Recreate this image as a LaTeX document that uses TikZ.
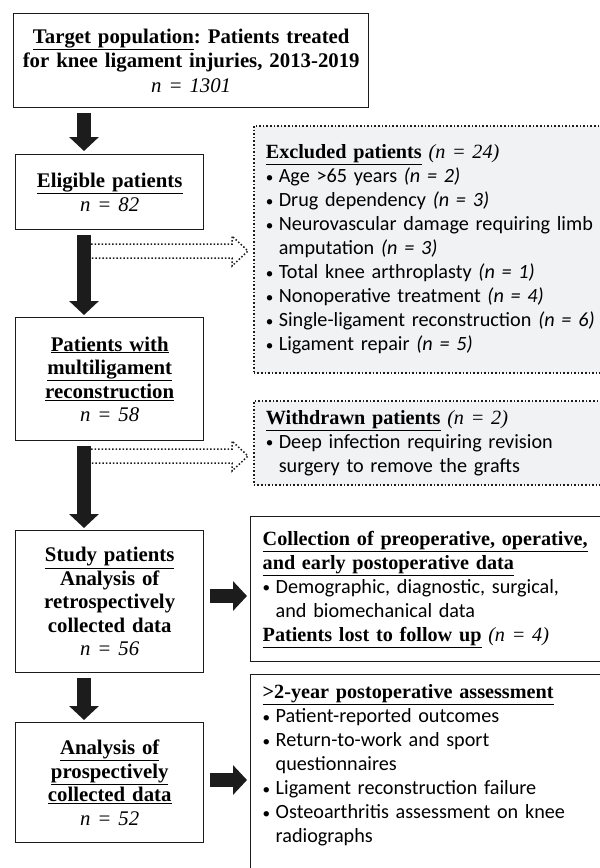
\documentclass[tikz,border=0pt]{standalone}
\usepackage{fontspec}
\setmainfont{Liberation Serif}
\newfontfamily\calib{Carlito}
\usetikzlibrary{arrows.meta,positioning,calc}
\frenchspacing

\definecolor{boxgray}{RGB}{241,242,244}
\definecolor{ink}{RGB}{28,28,28}

\newcommand\hd[1]{{\rmfamily\bfseries\underline{#1}}}
\newcommand\nn[1]{{\rmfamily\itshape #1}}
\newcommand\bul{\makebox[13pt][l]{\raisebox{0.5pt}{\scalebox{0.75}{•}}}}
\newcommand\ind{\hspace*{13pt}}

\begin{document}
\begin{tikzpicture}[
  x=1pt, y=-1pt,
  lbox/.style={draw=ink, line width=1.4pt, align=center, anchor=north west, inner xsep=4pt, inner ysep=0pt, text width=180pt, font=\fontsize{20.8}{23.5}\selectfont\bfseries},
  rbox/.style={draw=ink, dotted, line width=1.6pt, fill=boxgray, align=left, anchor=north west, inner xsep=12pt, inner ysep=0pt, text width=360pt, font=\calib\fontsize{20.2}{24}\selectfont},
  sbox/.style={rbox, solid, fill=none, line width=1.4pt},
  blk/.style={line width=14pt, ink, -{Triangle[width=29pt,length=14pt]}},
  hollow/.style={ink, dotted, line width=1.5pt, line join=miter}
]
\useasboundingbox (0,0) rectangle (600,868);
\fill[white] (0,0) rectangle (600,868);
\clip (0,0) rectangle (600,868);

\node[lbox, text width=347pt, minimum height=94pt, font=\fontsize{20.8}{24.5}\selectfont\bfseries] (target) at (13,13) {\underline{Target population}: Patients treated\\ for knee ligament injuries, 2013-2019\\ \mdseries\itshape n = 1301};
\node[lbox, minimum height=75pt] (elig) at (15,154) {\underline{Eligible patients}\\ \mdseries\itshape n = 82};
\node[lbox, minimum height=123pt] (multi) at (15,317) {\underline{Patients with}\\ \underline{multiligament}\\ \underline{reconstruction}\\ \mdseries\itshape n = 58};
\node[lbox, minimum height=142pt] (study) at (15,530) {\underline{Study patients}\\ Analysis of\\ retrospectively\\ collected data\\ \mdseries\itshape n = 56};
\node[lbox, minimum height=120pt] (anal) at (15,722) {\underline{Analysis of}\\ \underline{prospectively}\\ \underline{collected data}\\ \mdseries\itshape n = 52};

\node[rbox, minimum height=247pt] (excl) at (253,125) {\hd{Excluded patients} \nn{(n = 24)}\\
  \bul Age >65 years \textit{(n = 2)}\\
  \bul Drug dependency \textit{(n = 3)}\\
  \bul Neurovascular damage requiring limb\\
  \ind amputation \textit{(n = 3)}\\
  \bul Total knee arthroplasty \textit{(n = 1)}\\
  \bul Nonoperative treatment \textit{(n = 4)}\\
  \bul Single-ligament reconstruction \textit{(n = 6)}\\
  \bul Ligament repair \textit{(n = 5)}};
\node[rbox, minimum height=84pt] (withd) at (253,400) {\hd{Withdrawn patients} \nn{(n = 2)}\\
  \bul Deep infection requiring revision\\
  \ind surgery to remove the grafts};
\node[sbox, minimum height=145pt] (coll) at (250,516) {\hd{Collection of preoperative, operative,}\\
  \hd{and early postoperative data}\\
  \bul Demographic, diagnostic, surgical,\\
  \ind and biomechanical data\\
  \hd{Patients lost to follow up} \nn{(n = 4)}};
\node[sbox, inner ysep=10pt] (assess) at (250,674) {\parbox[t][205pt][t]{\linewidth}{\hd{>2-year postoperative assessment}\\
  \bul Patient-reported outcomes\\
  \bul Return-to-work and sport\\
  \ind questionnaires\\
  \bul Ligament reconstruction failure\\
  \bul Osteoarthritis assessment on knee\\
  \ind radiographs}};

\coordinate (ax) at (84,0);
\draw[blk] ([yshift=-5pt]target.south -| ax) -- ([yshift=3pt]elig.north -| ax);
\draw[blk] ([yshift=-5pt]elig.south -| ax) -- ([yshift=2pt]multi.north -| ax);
\draw[blk] ([yshift=-5pt]multi.south -| ax) -- ([yshift=2pt]study.north -| ax);
\draw[blk] ([yshift=-5pt]study.south -| ax) -- ([yshift=2pt]anal.north -| ax);

\coordinate (r1) at (0,596);
\coordinate (r2) at (0,780);
\draw[blk] ([xshift=6pt]study.east |- r1) -- ([xshift=-3pt]coll.west |- r1);
\draw[blk] ([xshift=6pt]anal.east |- r2) -- ([xshift=-3pt]assess.west |- r2);

\coordinate (d1) at (91,251);
\coordinate (d2) at (91,456);
\foreach \s/\b in {d1/excl, d2/withd}
  \draw[hollow] ($(\s)+(0,-7)$) -- ($(\b.west |- \s)+(-21,-7)$) -- ++(0,-8)
    -- ($(\b.west |- \s)+(-5,0)$) -- ($(\b.west |- \s)+(-21,15)$) -- ++(0,-8) -- ($(\s)+(0,7)$);
\end{tikzpicture}
\end{document}
